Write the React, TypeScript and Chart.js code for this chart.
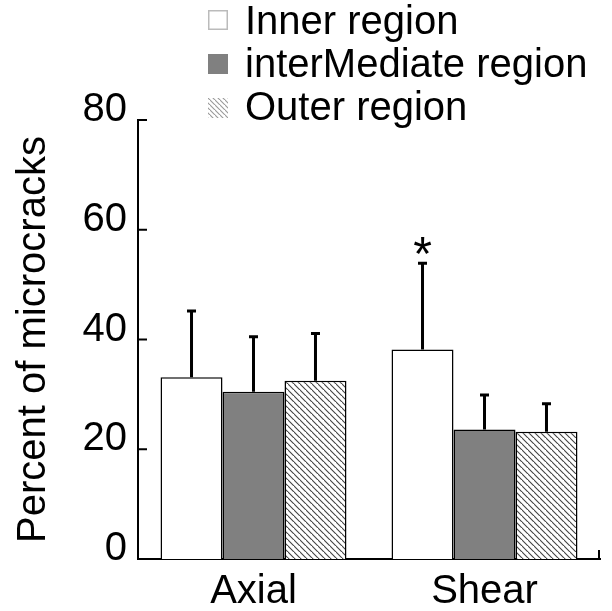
import React, { useEffect, useRef } from "react";
import { Chart, registerables } from "chart.js";

Chart.register(...registerables);

const categories = ["Axial", "Shear"];
const seriesNames = ["Inner region", "interMediate region", "Outer region"];
const innerValues = [33.1, 38.2];
const innerErrors = [12.1, 15.7];
const intermediateValues = [30.5, 23.6];
const intermediateErrors = [10.0, 6.3];
const outerValues = [32.5, 23.2];
const outerErrors = [8.6, 5.1];
const yTicks = [0, 20, 40, 60, 80];
const significantMarks = [
  { dataset: 0, index: 1, text: "*" },
];

const FONT = '"Liberation Sans", Arial, sans-serif';
const FS = 40;

function makeHatch(lineColor: string, size: number, width: number) {
  const c = document.createElement("canvas");
  c.width = size;
  c.height = size;
  const g = c.getContext("2d")!;
  g.fillStyle = "#ffffff";
  g.fillRect(0, 0, size, size);
  g.strokeStyle = lineColor;
  g.lineWidth = width;
  g.beginPath();
  g.moveTo(-1, -1);
  g.lineTo(size + 1, size + 1);
  g.moveTo(-size - 1, -1);
  g.lineTo(1, size + 1);
  g.moveTo(size - 1, -size - 1);
  g.lineTo(2 * size + 1, size + 1);
  g.stroke();
  return g.createPattern(c, "repeat")!;
}

export default function App() {
  const ref = useRef<HTMLCanvasElement | null>(null);

  useEffect(() => {
    const canvas = ref.current!;
    const ctx = canvas.getContext("2d")!;
    const hatch = makeHatch("#444444", 6, 1.1);
    const legendHatch = makeHatch("#9a9a9a", 5, 1.1);
    const errors = [innerErrors, intermediateErrors, outerErrors];

    const extras = {
      id: "extras",
      afterDatasetsDraw(chart: any) {
        const c = chart.ctx;
        const ys = chart.scales.y;
        const area = chart.chartArea;
        c.save();
        // error bars
        c.strokeStyle = "#000";
        c.lineWidth = 3;
        chart.data.datasets.forEach((ds: any, i: number) => {
          const meta = chart.getDatasetMeta(i);
          meta.data.forEach((el: any, j: number) => {
            const v = ds.data[j];
            const top = ys.getPixelForValue(v + errors[i][j]);
            c.beginPath();
            c.moveTo(el.x, el.y);
            c.lineTo(el.x, top);
            c.moveTo(el.x - 4.5, top);
            c.lineTo(el.x + 4.5, top);
            c.stroke();
          });
        });
        // significance marks
        c.fillStyle = "#000";
        c.font = `48px ${FONT}`;
        c.textAlign = "center";
        c.textBaseline = "alphabetic";
        significantMarks.forEach((m) => {
          const el = chart.getDatasetMeta(m.dataset).data[m.index];
          const v = chart.data.datasets[m.dataset].data[m.index];
          const top = ys.getPixelForValue(v + errors[m.dataset][m.index]);
          c.fillText(m.text, el.x, top + 7);
        });
        // inward ticks on y axis
        c.lineWidth = 2;
        yTicks.forEach((t) => {
          if (t === 0) return;
          const y = ys.getPixelForValue(t);
          c.beginPath();
          c.moveTo(area.left, y);
          c.lineTo(area.left + 9, y);
          c.stroke();
        });
        // right end tick of x axis
        c.beginPath();
        c.moveTo(area.right - 1, area.bottom);
        c.lineTo(area.right - 1, area.bottom - 9);
        c.stroke();
        c.restore();
      },
      afterDraw(chart: any) {
        const c = chart.ctx;
        c.save();
        const fills = ["#ffffff", "#808080", legendHatch];
        const boxY = [10, 54, 98];
        const textY = [23, 66, 109];
        seriesNames.forEach((name, i) => {
          c.fillStyle = fills[i] as any;
          c.fillRect(208, boxY[i], 20, 20);
          if (i === 0) {
            c.strokeStyle = "#bbbbbb";
            c.lineWidth = 1.5;
            c.strokeRect(208.75, boxY[i] + 0.75, 18.5, 18.5);
          }
          c.fillStyle = "#000";
          c.font = `${FS}px ${FONT}`;
          c.textAlign = "left";
          c.textBaseline = "middle";
          c.fillText(name, 245, textY[i]);
        });
        c.restore();
      },
    };

    const chart = new Chart(ctx, {
      type: "bar",
      data: {
        labels: categories,
        datasets: [
          { label: seriesNames[0], data: innerValues, backgroundColor: "#ffffff" },
          { label: seriesNames[1], data: intermediateValues, backgroundColor: "#808080" },
          { label: seriesNames[2], data: outerValues, backgroundColor: hatch as any },
        ].map((d) => ({
          ...d,
          borderColor: "#000000",
          borderWidth: 1.5,
          categoryPercentage: 0.805,
          barPercentage: 1,
        })),
      },
      options: {
        responsive: false,
        animation: false,
        devicePixelRatio: 1,
        layout: { padding: { top: 120, right: 12, left: 0, bottom: 0 } },
        plugins: { legend: { display: false }, tooltip: { enabled: false } },
        scales: {
          x: {
            grid: { display: false, drawTicks: false },
            border: { display: true, color: "#000", width: 2 },
            ticks: { color: "#000", font: { size: FS, family: FONT }, padding: 9 },
            afterFit: (s: any) => {
              s.height = 52;
            },
          },
          y: {
            min: 0,
            max: 80,
            grid: { display: false, drawTicks: false },
            border: { display: true, color: "#000", width: 2 },
            ticks: {
              stepSize: 20,
              color: "#000",
              font: { size: FS, family: FONT },
              padding: 11,
              labelOffset: -10,
            },
            title: {
              display: true,
              text: "Percent of microcracks",
              color: "#000",
              font: { size: FS, family: FONT, lineHeight: 1.2 },
              padding: { top: 10, bottom: 0 },
            },
            afterFit: (s: any) => {
              s.width = 138;
            },
          },
        },
      },
      plugins: [extras],
    });
    return () => chart.destroy();
  }, []);

  return (
    <div style={{ position: "fixed", left: 0, top: 0, width: 612, height: 611, background: "#fff" }}>
      <canvas ref={ref} width={612} height={611} style={{ display: "block" }} />
    </div>
  );
}
